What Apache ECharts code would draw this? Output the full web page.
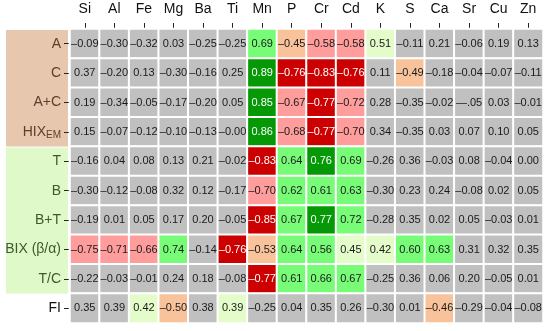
<!DOCTYPE html>
<html>
<head>
<meta charset="utf-8">
<script src="https://cdn.jsdelivr.net/npm/echarts@6/dist/echarts.min.js"></script>
<style>html,body{margin:0;padding:0;background:#fff}#c{width:550px;height:331px}</style>
</head>
<body>
<div id="c"></div>
<script>
var columns = ['Si','Al','Fe','Mg','Ba','Ti','Mn','P','Cr','Cd','K','S','Ca','Sr','Cu','Zn'];
var rows = ['A','C','A+C','HIX_EM','T','B','B+T','BIX (β/α)','T/C','FI'];
var rowGroup = ['tan','tan','tan','tan','grn','grn','grn','grn','grn','plain'];

var values = [
  [-0.09,-0.30,-0.32,0.03,-0.25,-0.25,0.69,-0.45,-0.58,-0.58,0.51,-0.11,0.21,-0.06,0.19,0.13],
  [0.37,-0.20,0.13,-0.30,-0.16,0.25,0.89,-0.76,-0.83,-0.76,0.11,-0.49,-0.18,-0.04,-0.07,-0.11],
  [0.19,-0.34,-0.05,-0.17,-0.20,0.05,0.85,-0.67,-0.77,-0.72,0.28,-0.35,-0.02,-0.05,0.03,-0.01],
  [0.15,-0.07,-0.12,-0.10,-0.13,-0.00,0.86,-0.68,-0.77,-0.70,0.34,-0.35,0.03,0.07,0.10,0.05],
  [-0.16,0.04,0.08,0.13,0.21,-0.02,-0.83,0.64,0.76,0.69,-0.26,0.36,-0.03,0.08,-0.04,0.00],
  [-0.30,-0.12,-0.08,0.32,0.12,-0.17,-0.70,0.62,0.61,0.63,-0.30,0.23,0.24,-0.08,0.02,0.05],
  [-0.19,0.01,0.05,0.17,0.20,-0.05,-0.85,0.67,0.77,0.72,-0.28,0.35,0.02,0.05,-0.03,0.01],
  [-0.75,-0.71,-0.66,0.74,-0.14,-0.76,-0.53,0.64,0.56,0.45,0.42,0.60,0.63,0.31,0.32,0.35],
  [-0.22,-0.03,-0.01,0.24,0.18,-0.08,-0.77,0.61,0.66,0.67,-0.25,0.36,0.06,0.20,-0.05,0.01],
  [0.35,0.39,0.42,-0.50,0.38,0.39,-0.25,0.04,0.35,0.26,-0.30,0.01,-0.46,-0.29,-0.04,-0.08]
];
// significance level per cell: 0 = n.s., ±1 weak, ±2 moderate, ±3 strong
var levels = [
  [0,0,0,0,0,0,2,-1,-2,-2,1,0,0,0,0,0],
  [0,0,0,0,0,0,3,-3,-3,-3,0,-1,0,0,0,0],
  [0,0,0,0,0,0,3,-2,-3,-2,0,0,0,0,0,0],
  [0,0,0,0,0,0,3,-2,-3,-2,0,0,0,0,0,0],
  [0,0,0,0,0,0,-3,2,3,2,0,0,0,0,0,0],
  [0,0,0,0,0,0,-2,2,2,2,0,0,0,0,0,0],
  [0,0,0,0,0,0,-3,2,3,2,0,0,0,0,0,0],
  [-2,-2,-2,2,0,-3,-1,2,2,1,1,2,2,0,0,0],
  [0,0,0,0,0,0,-3,2,2,2,0,0,0,0,0,0],
  [0,0,1,-1,0,1,0,0,0,0,0,0,-1,0,0,0]
];
var labelOverrides = {'2,13': '\u2014.05'};

var levelColors = {'-3':'#cc0000','-2':'#ff9c9c','-1':'#f8c39a','0':'#c0c0c0','1':'#e3fcc9','2':'#78fc78','3':'#059a05'};

function fmt(v){
  var s = Math.abs(v).toFixed(2);
  if (v < 0 || (v === 0 && 1/v < 0)) return '\u2013' + s;
  return s;
}

var data = [];
for (var r = 0; r < rows.length; r++) {
  for (var c = 0; c < columns.length; c++) {
    var lv = levels[r][c];
    var key = r + ',' + c;
    data.push({
      value: [c, r, values[r][c], lv],
      txt: labelOverrides[key] || fmt(values[r][c]),
      label: {color: Math.abs(lv) === 3 ? '#ffffff' : '#1a1a1a'}
    });
  }
}

var pieces = [];
for (var k in levelColors) pieces.push({value: Number(k), color: levelColors[k]});

var chart = echarts.init(document.getElementById('c'), null, {renderer: 'canvas'});
var FONT = 'Liberation Sans, Arial, sans-serif';
var option = {
  animation: false,
  backgroundColor: '#ffffff',
  textStyle: {fontFamily: FONT},
  grid: {left: 70, right: 7, top: 29, bottom: 8, show: true, borderColor: '#333', borderWidth: 1.2, backgroundColor: 'transparent'},
  xAxis: {
    type: 'category', data: columns, position: 'top',
    axisLine: {show: true, lineStyle: {color: '#222', width: 1.2}},
    axisTick: {show: true, alignWithLabel: true, length: 6, lineStyle: {color: '#222'}},
    axisLabel: {fontSize: 14, color: '#111', margin: 13, fontFamily: FONT, interval: 0},
    splitLine: {show: false}
  },
  yAxis: {
    type: 'category', data: rows, inverse: true,
    axisLine: {show: true, lineStyle: {color: '#222', width: 1.2}},
    axisTick: {show: true, alignWithLabel: true, length: 6, lineStyle: {color: '#222'}},
    axisLabel: {
      fontSize: 14, margin: 9, fontFamily: FONT, interval: 0,
      formatter: function (v, i) {
        var g = rowGroup[i];
        if (v === 'HIX_EM') return '{' + g + '|HIX}{' + g + 'Sub|EM}';
        return '{' + g + '|' + v + '}';
      },
      rich: {
        tan: {color: '#5e3d2c', fontSize: 14, fontFamily: FONT},
        tanSub: {color: '#5e3d2c', fontSize: 10, fontFamily: FONT, verticalAlign: 'bottom', padding: [7, 0, 0, 0]},
        grn: {color: '#3d5a2a', fontSize: 14, fontFamily: FONT},
        grnSub: {color: '#3d5a2a', fontSize: 10, fontFamily: FONT},
        plain: {color: '#111', fontSize: 14, fontFamily: FONT}
      }
    },
    splitLine: {show: false}
  },
  visualMap: {type: 'piecewise', show: false, dimension: 3, pieces: pieces, seriesIndex: 0},
  series: [{
    type: 'heatmap',
    data: data,
    itemStyle: {borderColor: '#ffffff', borderWidth: 2},
    label: {
      show: true, fontSize: 11, fontFamily: FONT,
      formatter: function (p) { return p.data.txt; }
    },
    emphasis: {disabled: true}
  }]
};
chart.setOption(option);

function bandEdges(i) {
  var c0 = chart.convertToPixel({yAxisIndex: 0}, rows[0]);
  var c1 = chart.convertToPixel({yAxisIndex: 0}, rows[1]);
  var h = c1 - c0;
  var c = chart.convertToPixel({yAxisIndex: 0}, rows[i]);
  return [c - h / 2, c + h / 2];
}
var gl = option.grid.left;
var tanTop = bandEdges(0)[0] + 1, tanBot = bandEdges(3)[1];
var grnTop = bandEdges(4)[0] + 1, grnBot = bandEdges(8)[1];
chart.setOption({
  graphic: [
    {type: 'rect', z: -10, silent: true, shape: {x: 6, y: tanTop, width: gl - 8, height: tanBot - tanTop}, style: {fill: '#e8c7af'}},
    {type: 'rect', z: -10, silent: true, shape: {x: 6, y: grnTop, width: gl - 8, height: grnBot - grnTop}, style: {fill: '#e0f9c9'}}
  ]
});
</script>
</body>
</html>
